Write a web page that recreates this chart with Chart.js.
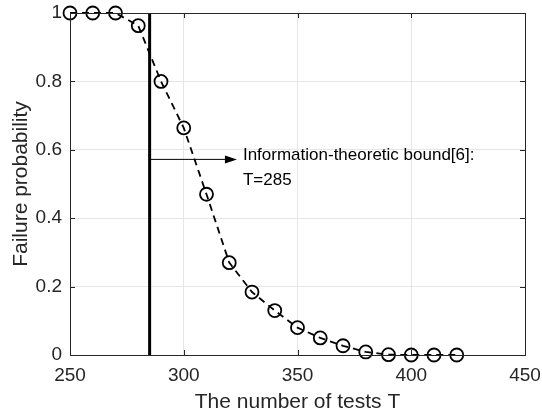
<!DOCTYPE html>
<html>
<head>
<meta charset="utf-8">
<script src="https://cdn.jsdelivr.net/npm/chart.js@4.4.1/dist/chart.umd.min.js"></script>
<style>
  html, body { margin: 0; padding: 0; background: #fff; }
  #wrap { width: 542px; height: 415px; }
</style>
</head>
<body>
<div id="wrap"><canvas id="failChart" width="542" height="415"></canvas></div>
<script>
// data
const testCounts = [250, 260, 270, 280, 290, 300, 310, 320, 330, 340, 350, 360, 370, 380, 390, 400, 410, 420];
const failureProb = [1, 1, 1, 0.963, 0.80, 0.664, 0.47, 0.27, 0.184, 0.13, 0.08, 0.05, 0.027, 0.009, 0.001, 0, 0, 0];
const boundT = 285;
const arrowY = 0.572;
const arrowEndT = 322.5;
const noteLines = ['Information-theoretic bound[6]:', 'T=285'];
const xTicks = [250, 300, 350, 400, 450];
const yTicks = [0, 0.2, 0.4, 0.6, 0.8, 1];

const FONT = '"Liberation Sans", Arial, Helvetica, sans-serif';

// box around the plot + inward ticks, like the matlab axes
const boxPlugin = {
    id: 'boxPlugin',
    afterDatasetsDraw(chart) {
        const { ctx, chartArea: a, scales } = chart;
        ctx.save();
        ctx.strokeStyle = '#262626';
        ctx.lineWidth = 1;
        ctx.strokeRect(a.left + 0.5, a.top + 0.5, a.right - a.left, a.bottom - a.top);
        ctx.beginPath();
        xTicks.forEach(t => {
            const x = Math.round(scales.x.getPixelForValue(t)) + 0.5;
            ctx.moveTo(x, a.bottom); ctx.lineTo(x, a.bottom - 5);
            ctx.moveTo(x, a.top); ctx.lineTo(x, a.top + 5);
        });
        yTicks.forEach(t => {
            const y = Math.round(scales.y.getPixelForValue(t)) + 0.5;
            ctx.moveTo(a.left, y); ctx.lineTo(a.left + 5, y);
            ctx.moveTo(a.right, y); ctx.lineTo(a.right - 5, y);
        });
        ctx.stroke();
        ctx.restore();
    }
};

// arrow head and annotation text
const notePlugin = {
    id: 'notePlugin',
    afterDatasetsDraw(chart) {
        const { ctx, scales } = chart;
        const x = scales.x.getPixelForValue(arrowEndT);
        const y = scales.y.getPixelForValue(arrowY);
        ctx.save();
        ctx.fillStyle = '#000';
        ctx.beginPath();
        ctx.moveTo(x + 2, y);
        ctx.lineTo(x - 10, y - 4);
        ctx.lineTo(x - 10, y + 4);
        ctx.closePath();
        ctx.fill();
        ctx.font = '17px ' + FONT;
        ctx.fillStyle = '#000';
        ctx.textBaseline = 'middle';
        ctx.fillText(noteLines[0], x + 8, y - 4);
        ctx.fillText(noteLines[1], x + 8, y + 21);
        ctx.restore();
    }
};

// fixed axis sizes, no automatic label overhang padding
function fixAxis(size) {
    return axis => {
        if (axis.isHorizontal()) axis.height = size; else axis.width = size;
        axis.paddingTop = 0;
        axis.paddingBottom = 0;
        axis.paddingLeft = 0;
        axis.paddingRight = 0;
    };
}

const ctx = document.getElementById('failChart').getContext('2d');

window.chart = new Chart(ctx, {
    type: 'line',
    data: {
        datasets: [
            {
                label: 'failure',
                data: testCounts.map((t, i) => ({ x: t, y: failureProb[i] })),
                borderColor: '#000',
                borderWidth: 1.8,
                borderDash: [7, 5],
                pointRadius: 6.5,
                pointStyle: 'circle',
                pointBackgroundColor: 'rgba(0,0,0,0)',
                pointBorderColor: '#000',
                pointBorderWidth: 1.8,
                fill: false,
                tension: 0,
                clip: false
            },
            {
                label: 'bound',
                data: [{ x: boundT, y: 0 }, { x: boundT, y: 1 }],
                borderColor: '#000',
                borderWidth: 3,
                pointRadius: 0,
                fill: false
            },
            {
                label: 'arrow',
                data: [{ x: boundT, y: arrowY }, { x: arrowEndT - 3, y: arrowY }],
                borderColor: '#000',
                borderWidth: 1,
                pointRadius: 0,
                fill: false
            }
        ]
    },
    options: {
        responsive: false,
        animation: false,
        layout: { autoPadding: false, padding: { top: 13, right: 17, left: 0, bottom: 0 } },
        plugins: {
            legend: { display: false },
            tooltip: { enabled: false }
        },
        scales: {
            x: {
                type: 'linear',
                min: 250,
                max: 450,
                afterBuildTicks: axis => { axis.ticks = xTicks.map(v => ({ value: v })); },
                grid: { color: '#e6e6e6', drawTicks: false },
                border: { display: false },
                ticks: {
                    color: '#262626',
                    font: { family: FONT, size: 19 },
                    padding: 9,
                    maxRotation: 0
                },
                title: {
                    display: true,
                    text: 'The number of tests T',
                    color: '#262626',
                    font: { family: FONT, size: 21 },
                    padding: { top: 0, bottom: 0 }
                },
                afterFit: fixAxis(60)
            },
            y: {
                type: 'linear',
                min: 0,
                max: 1,
                afterBuildTicks: axis => { axis.ticks = yTicks.map(v => ({ value: v })); },
                grid: { color: '#e6e6e6', drawTicks: false },
                border: { display: false },
                ticks: {
                    color: '#262626',
                    font: { family: FONT, size: 19 },
                    padding: 8,
                    callback: v => String(Number(v.toFixed(1)))
                },
                title: {
                    display: true,
                    text: 'Failure probability',
                    color: '#262626',
                    font: { family: FONT, size: 21 },
                    padding: { top: 9, bottom: 0 }
                },
                afterFit: fixAxis(70)
            }
        }
    },
    plugins: [boxPlugin, notePlugin]
});
</script>
</body>
</html>
